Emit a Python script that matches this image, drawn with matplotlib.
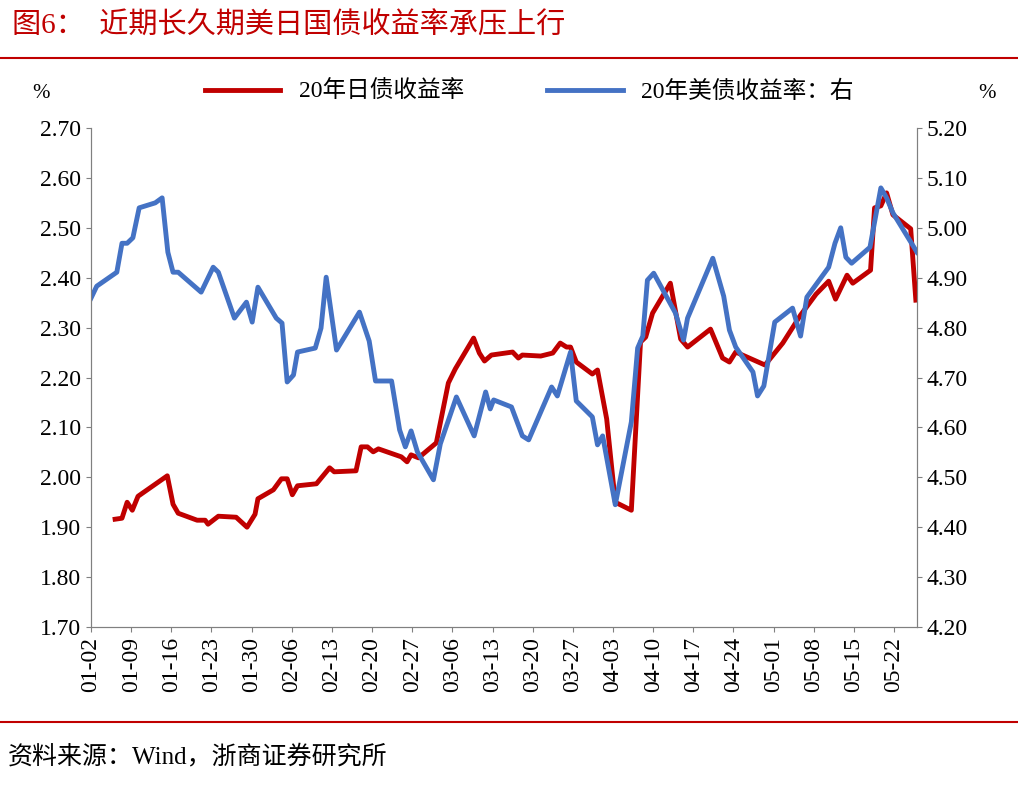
import numpy as np
import matplotlib.pyplot as plt

plt.rcParams['font.family'] = ['Liberation Serif', 'Noto Sans CJK SC']

# day offsets from 01-02
jp_days = [4.2, 5.4, 6.3, 7.2, 8.2, 13.3, 14.3, 15.2, 18.5, 19.9, 20.4, 22.2, 25.3, 27.2, 28.6, 29.1,
           31.8, 33.2, 34.2, 35.1, 36.0, 39.3, 41.6, 42.4, 46.2, 47.1, 48.2, 49.2, 50.1, 54.1, 55.1,
           55.8, 57.1, 60.2, 62.3, 63.5, 66.7, 67.7, 68.6, 69.8, 73.5, 74.5, 75.2, 78.4, 80.5, 81.8,
           82.9, 83.6, 84.6, 87.4, 88.3, 89.9, 91.4, 94.2, 95.8, 96.7, 97.9, 101.0, 102.8, 104.0,
           108.0, 110.1, 111.3, 112.4, 117.5, 120.6, 123.7, 126.4, 128.6, 129.8, 131.8, 132.8,
           135.9, 136.6, 137.7, 138.7, 139.8, 142.9, 143.8]
jp_yield = [1.916, 1.918, 1.950, 1.934, 1.962, 2.003, 1.946, 1.928, 1.914, 1.914, 1.906, 1.922, 1.920,
            1.900, 1.926, 1.957, 1.975, 1.997, 1.997, 1.965, 1.983, 1.987, 2.019, 2.011, 2.013, 2.061,
            2.061, 2.051, 2.057, 2.041, 2.031, 2.045, 2.039, 2.069, 2.189, 2.217, 2.279, 2.249, 2.233,
            2.245, 2.251, 2.239, 2.245, 2.243, 2.249, 2.269, 2.261, 2.261, 2.231, 2.207, 2.215, 2.117,
            1.950, 1.934, 2.271, 2.281, 2.329, 2.389, 2.277, 2.261, 2.297, 2.239, 2.231, 2.251, 2.225,
            2.269, 2.325, 2.367, 2.393, 2.357, 2.405, 2.389, 2.415, 2.540, 2.544, 2.570, 2.526, 2.498,
            2.355]

us_days = [0, 1.0, 4.5, 5.4, 6.3, 7.3, 8.4, 11.2, 12.4, 13.4, 14.3, 15.2, 19.2, 21.3, 22.2, 25.0, 27.1,
           28.1, 29.1, 32.3, 33.3, 34.2, 35.3, 36.0, 39.1, 40.1, 41.0, 42.8, 46.8, 48.5, 49.6, 52.4,
           53.8, 54.8, 55.8, 56.9, 59.7, 60.9, 63.7, 66.8, 68.8, 69.6, 70.2, 73.3, 75.2, 76.3, 80.3,
           81.3, 83.6, 84.6, 87.4, 88.3, 89.2, 91.4, 94.2, 95.3, 96.2, 97.0, 98.1, 101.9, 103.3, 104.0,
           108.4, 110.3, 111.3, 112.4, 115.4, 116.2, 117.3, 119.2, 122.3, 123.7, 124.8, 128.6, 129.7,
           130.7, 131.6, 132.6, 135.8, 137.7, 138.7, 139.8, 144.0]
us_yield = [4.859, 4.883, 4.911, 4.969, 4.969, 4.980, 5.040, 5.050, 5.060, 4.951, 4.911, 4.911, 4.871,
            4.921, 4.911, 4.819, 4.851, 4.811, 4.881, 4.819, 4.809, 4.691, 4.705, 4.751, 4.759, 4.799,
            4.901, 4.755, 4.831, 4.773, 4.693, 4.693, 4.595, 4.561, 4.593, 4.551, 4.495, 4.567, 4.661,
            4.583, 4.671, 4.637, 4.655, 4.641, 4.583, 4.575, 4.681, 4.663, 4.751, 4.653, 4.621, 4.565,
            4.583, 4.445, 4.611, 4.759, 4.783, 4.895, 4.909, 4.829, 4.775, 4.819, 4.939, 4.863, 4.795,
            4.761, 4.711, 4.663, 4.683, 4.811, 4.839, 4.783, 4.861, 4.921, 4.969, 5.000, 4.941, 4.929,
            4.961, 5.080, 5.060, 5.030, 4.951]

tick_days = list(range(0, 141, 7))
tick_labels = ['01-02', '01-09', '01-16', '01-23', '01-30', '02-06', '02-13', '02-20', '02-27',
               '03-06', '03-13', '03-20', '03-27', '04-03', '04-10', '04-17', '04-24', '05-01',
               '05-08', '05-15', '05-22']

RED = '#C00000'
BLUE = '#4472C4'

fig = plt.figure(figsize=(10.18, 7.87), dpi=100)
ax = fig.add_axes([91 / 1018, 1 - 627 / 787, 826 / 1018, 499 / 787])
ax2 = ax.twinx()

l1, = ax.plot(jp_days, jp_yield, color=RED, lw=3.5, label='20年日债收益率')
l2, = ax2.plot(us_days, us_yield, color=BLUE, lw=3.5, label='20年美债收益率：右')

ax.set_xlim(0, 144)
ax.set_ylim(1.70, 2.70)
ax2.set_ylim(4.20, 5.20)
ax.set_yticks(np.arange(1.70, 2.71, 0.10))
ax.set_yticklabels([f'{v:.2f}' for v in np.arange(1.70, 2.71, 0.10)])
ax2.set_yticks(np.arange(4.20, 5.21, 0.10))
ax2.set_yticklabels([f'{v:.2f}' for v in np.arange(4.20, 5.21, 0.10)])
ax.set_xticks(tick_days)
ax.set_xticklabels(tick_labels, rotation=90)

for a in (ax, ax2):
    a.spines['top'].set_visible(False)
    for s in ('left', 'right', 'bottom'):
        a.spines[s].set_color('#808080')
    a.tick_params(labelsize=17, color='#808080', direction='out')

ax.text(-0.06, 1.06, '%', transform=ax.transAxes, fontsize=15, ha='center')
ax2.text(1.085, 1.06, '%', transform=ax.transAxes, fontsize=15, ha='center')

fig.legend(handles=[l1, l2], loc='center', bbox_to_anchor=(0.52, 1 - 92 / 787), ncol=2,
           frameon=False, fontsize=17, handlelength=3.2, columnspacing=3.5)

fig.text(0.012, 1 - 26 / 787, '图6：  近期长久期美日国债收益率承压上行', color=RED, fontsize=21, va='center')
fig.add_artist(plt.Line2D([0, 1], [1 - 58 / 787, 1 - 58 / 787], color=RED, lw=1.5))
fig.add_artist(plt.Line2D([0, 1], [1 - 722 / 787, 1 - 722 / 787], color=RED, lw=1.5))
fig.text(0.008, 1 - 757 / 787, '资料来源：Wind，浙商证券研究所', fontsize=18, va='center')

fig.savefig('out.png', dpi=100)
